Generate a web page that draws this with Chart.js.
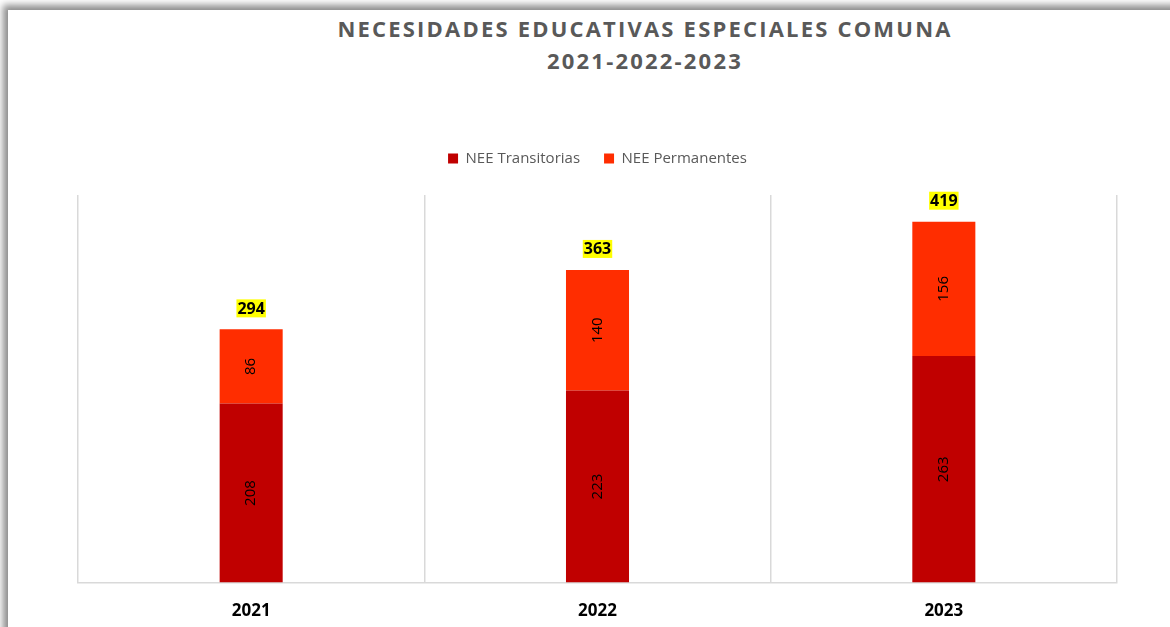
<!DOCTYPE html>
<html>
<head>
<meta charset="utf-8">
<script src="https://cdn.jsdelivr.net/npm/chart.js@4.4.0/dist/chart.umd.min.js"></script>
<style>
  body { margin:0; background:#fff; width:1170px; height:627px; overflow:hidden; }
  #frame { position:absolute; left:8px; top:10px; width:1180px; height:640px; background:#fff;
           box-shadow:-3px -3px 7px 2px rgba(0,0,0,0.45); }
  #ttl { position:absolute; left:0; top:2px; width:1274px; text-align:center; font-family:"Open Sans", sans-serif;
         font-weight:bold; font-size:22px; line-height:32px; color:#595959; letter-spacing:2.2px; }
  #wrap { position:absolute; left:0; top:0; width:1162px; height:633px; }
</style>
</head>
<body>
<div id="frame">
  <div id="ttl">NECESIDADES EDUCATIVAS ESPECIALES COMUNA<br>2021-2022-2023</div>
  <div id="wrap"><canvas id="chartContainer"></canvas></div>
</div>
<script>
const years = ['2021', '2022', '2023']
const transitorias = [208, 223, 263]
const permanentes = [86, 140, 156]

// labels inside bars + yellow totals on top
const barLabels = {
  id: 'barLabels',
  afterDatasetsDraw(chart) {
    const ctx = chart.ctx
    ctx.save()
    ctx.font = '15px "Open Sans", sans-serif'
    ctx.fillStyle = '#000'
    ctx.textAlign = 'center'
    ctx.textBaseline = 'middle'
    chart.data.datasets.forEach((ds, di) => {
      chart.getDatasetMeta(di).data.forEach((bar, i) => {
        const cy = (bar.y + bar.base) / 2
        ctx.save()
        ctx.translate(bar.x, cy)
        ctx.rotate(-Math.PI / 2)
        ctx.fillText(ds.data[i], 0, 0)
        ctx.restore()
      })
    })
    ctx.font = 'bold 16px "Open Sans", sans-serif'
    const ys = chart.scales.y
    const meta = chart.getDatasetMeta(0)
    for (var i = 0; i < years.length; i++) {
      const total = transitorias[i] + permanentes[i]
      const txt = String(total)
      const x = meta.data[i].x
      const y = ys.getPixelForValue(total) - 21
      const w = ctx.measureText(txt).width
      ctx.fillStyle = '#FFFF00'
      ctx.fillRect(x - w / 2 - 1, y - 9, w + 2, 18)
      ctx.fillStyle = '#000'
      ctx.fillText(txt, x, y + 1)
    }
    ctx.restore()
  }
}

const legendGap = {
  id: 'legendGap',
  beforeInit(chart) {
    const fit = chart.legend.fit
    chart.legend.fit = function () {
      fit.bind(chart.legend)()
      this.height += 19
    }
  }
}

var chart = new Chart(chartContainer, {
  type: 'bar',
  data: {
    labels: years,
    datasets: [{
        label: 'NEE Transitorias',
        backgroundColor: '#C00000',
        data: transitorias
      },
      {
        label: 'NEE Permanentes',
        backgroundColor: '#FF2D00',
        data: permanentes
      }
    ]
  },
  options: {
    responsive: true,
    maintainAspectRatio: false,
    animation: false,
    datasets: { bar: { categoryPercentage: 1, barPercentage: 0.182 } },
    layout: { padding: { left: 70, right: 53, top: 117, bottom: 4 } },
    plugins: {
      tooltip: { enabled: false },
      legend: {
        position: 'top',
        labels: {
          boxWidth: 10, boxHeight: 10, padding: 24,
          color: '#595959',
          font: { family: '"Open Sans", sans-serif', size: 15 }
        }
      }
    },
    scales: {
      x: {
        stacked: true,
        grid: { display: true, color: '#d9d9d9', lineWidth: 1.5, drawTicks: false, offset: true },
        border: { color: '#d9d9d9', width: 1.5 },
        ticks: { color: '#000', padding: 18, font: { family: '"Open Sans", sans-serif', size: 17, weight: 'bold' } }
      },
      y: {
        stacked: true,
        display: false,
        min: 0,
        max: 450
      }
    }
  },
  plugins: [barLabels, legendGap]
})
</script>
</body>
</html>
